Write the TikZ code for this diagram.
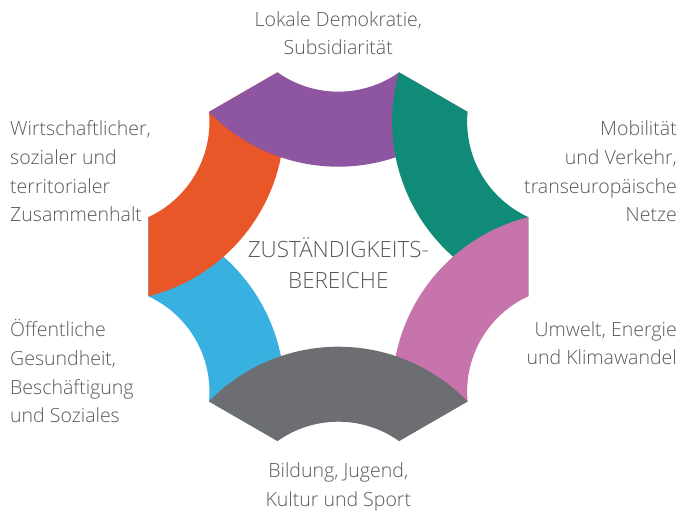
\documentclass[tikz,border=0pt]{standalone}
\usepackage{fontspec}
\IfFontExistsTF{Open Sans Light}{\setmainfont{Open Sans Light}}{\setmainfont{Open Sans}}
\usetikzlibrary{calc}
\definecolor{cpurple}{HTML}{8E55A0}
\definecolor{cteal}{HTML}{108B78}
\definecolor{cpink}{HTML}{C774AC}
\definecolor{cgray}{HTML}{6D6E71}
\definecolor{cblue}{HTML}{39B1E0}
\definecolor{corange}{HTML}{E95628}
\definecolor{txtgray}{HTML}{58595B}
\tikzset{
  lbl/.style={text=txtgray, inner sep=0pt, font=\fontsize{19.6}{29}\selectfont},
  ctr/.style={text=txtgray, inner sep=0pt, font=\fontsize{22.5}{32}\selectfont, align=center},
}
\begin{document}
\begin{tikzpicture}[x=1bp,y=1bp]
\useasboundingbox (-338.3,-257.3) rectangle (341.7,256.7);
\foreach \t/\c in {-150/cblue,150/corange,90/cpurple,30/cteal,-30/cpink,-90/cgray}{
  \fill[\c] (\t:270) ++(\t+180-35.34:105)
     arc[start angle=\t+180-35.34, end angle=\t+180+35.34, radius=105]
     -- ($(\t:270)+(\t+180+45.92:180)$)
     arc[start angle=\t+180+45.92, end angle=\t+180-45.92, radius=180] -- cycle;
}
% base anchor of a multi-line node = baseline of its last line
\node[lbl, align=center, anchor=base] (top) at (0,201.7) {Lokale Demokratie,\\Subsidiarität};
\node[lbl, align=left, anchor=base west] (lt) at (-328.3,34.7) {Wirtschaftlicher,\\sozialer und\\territorialer\\Zusammenhalt};
\node[lbl, align=right, anchor=base east] (rt) at (338.7,34.7) {Mobilität\\und Verkehr,\\transeuropäische\\Netze};
\node[lbl, align=left, anchor=base west] (lb) at (-328.3,-166.3) {Öffentliche\\Gesundheit,\\Beschäftigung\\und Soziales};
\node[lbl, align=right, anchor=base east] (rb) at (338.7,-108.3) {Umwelt, Energie\\und Klimawandel};
\node[lbl, align=center, anchor=base] (bot) at (0,-249.3) {Bildung, Jugend,\\Kultur und Sport};
\node[ctr, anchor=base] (mid) at (0,-32.3) {ZUSTÄNDIGKEITS-\\BEREICHE};
\end{tikzpicture}
\end{document}
